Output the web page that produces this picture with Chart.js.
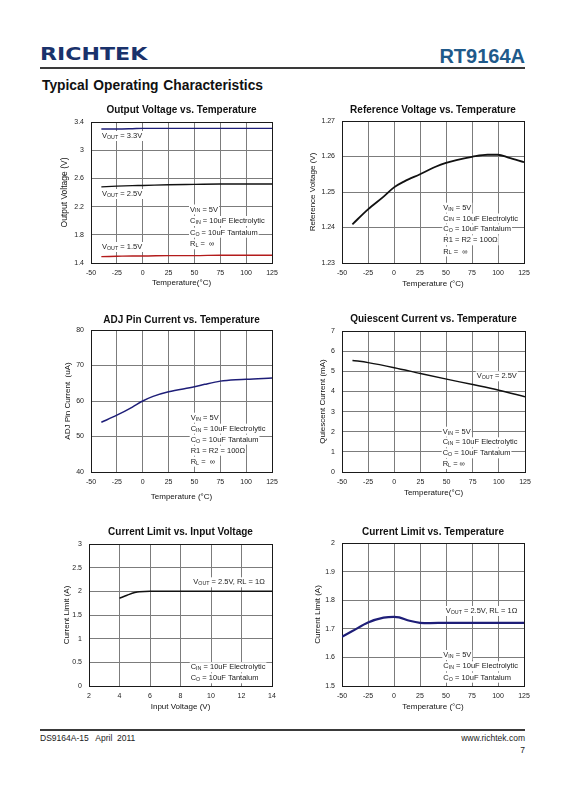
<!DOCTYPE html>
<html><head><meta charset="utf-8">
<script src="https://cdn.jsdelivr.net/npm/chart.js@4"></script>
<style>
body{margin:0;background:#fff;width:565px;height:800px;position:relative;overflow:hidden;font-family:"Liberation Sans",Arial,sans-serif;}
.abs{position:absolute;white-space:pre;}
canvas{position:absolute;}
</style></head><body>
<div class="abs" style="left:40px;top:46px;font:bold 17px/17px 'DejaVu Sans';color:#1a326b;transform:scaleX(1.3);transform-origin:0 0;">RICHTEK</div>
<div class="abs" style="right:40px;top:46px;font:bold 20px/20px 'Liberation Sans';color:#1f5a8a;">RT9164A</div>
<div class="abs" style="left:40px;top:67px;width:485px;height:2px;background:#3a3a3a;"></div>
<div class="abs" style="left:42px;top:79px;font:bold 13.8px/14px 'Liberation Sans';color:#111;word-spacing:1px;">Typical Operating Characteristics</div>
<div class="abs" style="left:40px;top:729px;width:485px;height:2px;background:#3a3a3a;"></div>
<div class="abs" style="left:40px;top:733px;font:8.5px/10px 'Liberation Sans';color:#222;">DS9164A-15   April  2011</div>
<div class="abs" style="right:40px;top:733px;font:8.5px/10px 'Liberation Sans';color:#222;">www.richtek.com</div>
<div class="abs" style="right:40px;top:745px;font:8.5px/10px 'Liberation Sans';color:#222;">7</div>
<script>
// ---------- DATA ----------
const tempTicks = [-50, -25, 0, 25, 50, 75, 100, 125];
const tempTickLabels = ['-50', '-25', '0', '25', '50', '75', '100', '125'];

// Output Voltage vs Temperature
const ovTemp = [-40, -25, -10, 0, 25, 50, 75, 100, 125];
const vout33 = [3.30, 3.30, 3.305, 3.31, 3.31, 3.31, 3.31, 3.31, 3.31];
const vout25 = [2.48, 2.49, 2.497, 2.50, 2.51, 2.515, 2.52, 2.52, 2.52];
const vout15 = [1.49, 1.495, 1.50, 1.50, 1.505, 1.505, 1.51, 1.51, 1.51];
const ovTicks = [1.4, 1.8, 2.2, 2.6, 3.0, 3.4];
const ovTickLabels = ['1.4', '1.8', '2.2', '2.6', '3', '3.4'];

// Reference Voltage vs Temperature
const refTemp = [-40, -25, -10, 0, 10, 25, 40, 50, 60, 75, 90, 100, 110, 125];
const vref = [1.2409, 1.2451, 1.2487, 1.2513, 1.2530, 1.2550, 1.2571, 1.2582, 1.2590, 1.2599, 1.2605, 1.2605, 1.2597, 1.2584];
const refTicks = [1.23, 1.24, 1.25, 1.26, 1.27];
const refTickLabels = ['1.23', '1.24', '1.25', '1.26', '1.27'];

// ADJ Pin Current vs Temperature
const adjTemp = [-40, -25, -10, 0, 10, 25, 50, 60, 75, 90, 100, 125];
const adjCurrent = [54.0, 56.0, 58.3, 60.0, 61.3, 62.6, 64.0, 64.7, 65.6, 66.0, 66.1, 66.5];
const adjTicks = [40, 50, 60, 70, 80];
const adjTickLabels = ['40', '50', '60', '70', '80'];

// Quiescent Current vs Temperature
const iqTemp = [-40, -25, 0, 25, 50, 75, 100, 125];
const iqCurrent = [5.54, 5.43, 5.18, 4.89, 4.61, 4.34, 4.06, 3.74];
const iqTicks = [0, 1, 2, 3, 4, 5, 6, 7];
const iqTickLabels = ['0', '1', '2', '3', '4', '5', '6', '7'];

// Current Limit vs Input Voltage
const vinVals = [4, 4.5, 5, 5.3, 6, 8, 10, 12, 14];
const ilimVin = [1.855, 1.918, 1.974, 1.993, 2.0, 2.0, 2.0, 2.0, 2.0];
const vinTicks = [2, 4, 6, 8, 10, 12, 14];
const vinTickLabels = ['2', '4', '6', '8', '10', '12', '14'];
const ilimTicks = [0, 0.5, 1, 1.5, 2, 2.5, 3];
const ilimTickLabels = ['0', '0.5', '1', '1.5', '2', '2.5', '3'];

// Current Limit vs Temperature
const ilTemp = [-50, -40, -25, -10, 0, 5, 15, 25, 35, 50, 75, 100, 125];
const ilimTemp = [1.672, 1.692, 1.722, 1.739, 1.742, 1.740, 1.728, 1.721, 1.720, 1.721, 1.721, 1.721, 1.721];
const ilTTicks = [1.5, 1.6, 1.7, 1.8, 1.9, 2.0];
const ilTTickLabels = ['1.5', '1.6', '1.7', '1.8', '1.9', '2'];

// ---------- RENDERING ----------
const FONT = '"Liberation Sans", Arial, sans-serif';
const MAIN = 7.5, SUB = 5.3;
const GRID = '#7c7c7c';

function parseRich(s) {
  return s.split(/(\{[^}]*\})/).filter(Boolean).map(p => p[0] === '{' ? {t: p.slice(1, -1), sub: true} : {t: p, sub: false});
}

const annotPlugin = {
  id: 'annot',
  afterDraw(chart, args, opts) {
    const ctx = chart.ctx;
    const items = opts.items || [];
    ctx.save();
    ctx.textBaseline = 'middle';
    items.forEach(it => {
      const parts = parseRich(it.text);
      const x0 = it.x - opts.ox, y0 = it.y - opts.oy;
      let w = 0;
      parts.forEach(p => { ctx.font = (p.sub ? SUB : MAIN) + 'px ' + FONT; w += ctx.measureText(p.t).width; });
      ctx.fillStyle = '#fff';
      ctx.fillRect(x0 - 1, y0 - 5, w + 2, 10);
      let x = x0;
      parts.forEach(p => {
        ctx.font = (p.sub ? SUB : MAIN) + 'px ' + FONT;
        ctx.fillStyle = '#222';
        ctx.fillText(p.t, x, y0 + (p.sub ? 1.4 : 0));
        x += ctx.measureText(p.t).width;
      });
    });
    ctx.restore();
  }
};

const framePlugin = {
  id: 'frame',
  beforeDatasetsDraw(chart) {
    const {ctx, chartArea: a} = chart;
    ctx.save();
    ctx.strokeStyle = '#1a1a1a';
    ctx.lineWidth = 1;
    ctx.strokeRect(Math.round(a.left) + 0.5, Math.round(a.top) + 0.5, Math.round(a.right - a.left), Math.round(a.bottom - a.top));
    ctx.restore();
  }
};

function makeChart(cfg) {
  const {L, T, R, B} = cfg.plot;
  const cl = L - 60, ct = T - 30;
  const w = R - L + 75, h = B - T + 62;
  const cv = document.createElement('canvas');
  cv.width = w; cv.height = h;
  cv.style.left = cl + 'px'; cv.style.top = ct + 'px';
  cv.style.width = w + 'px'; cv.style.height = h + 'px';
  document.body.appendChild(cv);
  const tPadTop = cfg.titleY - ct - 6;
  const tPadBottom = T - ct - 12 - tPadTop;
  new Chart(cv, {
    type: 'line',
    data: {
      datasets: cfg.series.map(s => ({
        data: s.x.map((xv, i) => ({x: xv, y: s.y[i]})),
        borderColor: s.color, borderWidth: s.width, pointRadius: 0, fill: false,
        cubicInterpolationMode: 'monotone'
      }))
    },
    options: {
      responsive: false, animation: false, devicePixelRatio: 1,
      layout: {padding: {left: 0, right: 15, top: 0, bottom: 0}},
      plugins: {
        legend: {display: false}, tooltip: {enabled: false},
        title: {display: true, text: cfg.title, fullSize: false, color: '#111',
          font: {family: FONT, size: 10, weight: 'bold', lineHeight: 1.2},
          padding: {top: tPadTop, bottom: tPadBottom}},
        annot: {items: cfg.annots, ox: cl, oy: ct}
      },
      scales: {
        x: {
          type: 'linear', min: cfg.xTicks[0], max: cfg.xTicks[cfg.xTicks.length - 1],
          afterFit: s => { s.height = 32; },
          afterBuildTicks: s => { s.ticks = cfg.xTicks.map(v => ({value: v})); },
          ticks: {autoSkip: false, maxRotation: 0, padding: 6, color: '#222',
            font: {family: FONT, size: 7}, callback: (v, i) => cfg.xLabels[i]},
          grid: {color: GRID, lineWidth: 1, drawTicks: false},
          border: {display: false},
          title: {display: true, text: cfg.xTitle, color: '#111',
            font: {family: FONT, size: 8, lineHeight: 1.2},
            padding: {top: 0, bottom: B + 32 - cfg.xTitleY - 4.8}}
        },
        y: {
          type: 'linear', min: cfg.yTicks[0], max: cfg.yTicks[cfg.yTicks.length - 1],
          afterFit: s => { s.width = 60; },
          afterBuildTicks: s => { s.ticks = cfg.yTicks.map(v => ({value: v})); },
          ticks: {autoSkip: false, padding: 7, color: '#222',
            font: {family: FONT, size: 7}, callback: (v, i) => cfg.yLabels[i]},
          grid: {color: GRID, lineWidth: 1, drawTicks: false},
          border: {display: false},
          title: {display: true, text: cfg.yTitle, color: '#111',
            font: {family: FONT, size: cfg.yTitleSize || 8, lineHeight: 1.2},
            padding: {top: cfg.yTitleX - cl - (cfg.yTitleSize || 8) * 0.6, bottom: 0}}
        }
      }
    },
    plugins: [framePlugin, annotPlugin]
  });
}

const NAVY = '#1e1e78', BLACK = '#111', RED = '#b31b1b';

makeChart({
  plot: {L: 91, T: 122, R: 272, B: 263}, titleY: 110, yTitleX: 65, xTitleY: 283, yTitleSize: 8.5,
  title: 'Output Voltage vs. Temperature', xTitle: 'Temperature(°C)', yTitle: 'Output Voltage (V)',
  xTicks: tempTicks, xLabels: tempTickLabels, yTicks: ovTicks, yLabels: ovTickLabels,
  series: [
    {x: ovTemp, y: vout33, color: NAVY, width: 1.4},
    {x: ovTemp, y: vout25, color: BLACK, width: 1.4},
    {x: ovTemp, y: vout15, color: RED, width: 1.4}
  ],
  annots: [
    {x: 102, y: 136, text: 'V{OUT} = 3.3V'},
    {x: 102, y: 194, text: 'V{OUT} = 2.5V'},
    {x: 102, y: 247, text: 'V{OUT} = 1.5V'},
    {x: 190, y: 209.5, text: 'V{IN} = 5V'},
    {x: 190, y: 221, text: 'C{IN} = 10uF Electrolytic'},
    {x: 190, y: 232.7, text: 'C{O} = 10uF Tantalum'},
    {x: 190, y: 244.3, text: 'R{L} =  ∞'}
  ]
});

makeChart({
  plot: {L: 342, T: 121, R: 524, B: 263}, titleY: 110, yTitleX: 313, xTitleY: 284,
  title: 'Reference Voltage vs. Temperature', xTitle: 'Temperature (°C)', yTitle: 'Reference Voltage (V)',
  xTicks: tempTicks, xLabels: tempTickLabels, yTicks: refTicks, yLabels: refTickLabels,
  series: [{x: refTemp, y: vref, color: BLACK, width: 1.8}],
  annots: [
    {x: 443.3, y: 207.7, text: 'V{IN} = 5V'},
    {x: 443.3, y: 218.5, text: 'C{IN} = 10uF Electrolytic'},
    {x: 443.3, y: 229.3, text: 'C{O} = 10uF Tantalum'},
    {x: 443.3, y: 240.3, text: 'R1 = R2 = 100Ω'},
    {x: 443.3, y: 251.5, text: 'R{L} =  ∞'}
  ]
});

makeChart({
  plot: {L: 91, T: 330, R: 272, B: 472}, titleY: 320, yTitleX: 68, xTitleY: 497,
  title: 'ADJ Pin Current vs. Temperature', xTitle: 'Temperature (°C)', yTitle: 'ADJ Pin Current  (uA)',
  xTicks: tempTicks, xLabels: tempTickLabels, yTicks: adjTicks, yLabels: adjTickLabels,
  series: [{x: adjTemp, y: adjCurrent, color: NAVY, width: 1.5}],
  annots: [
    {x: 190.7, y: 417.7, text: 'V{IN} = 5V'},
    {x: 190.7, y: 428.7, text: 'C{IN} = 10uF Electrolytic'},
    {x: 190.7, y: 439.7, text: 'C{O} = 10uF Tantalum'},
    {x: 190.7, y: 450.7, text: 'R1 = R2 = 100Ω'},
    {x: 190.7, y: 461.7, text: 'R{L} =  ∞'}
  ]
});

makeChart({
  plot: {L: 342, T: 331, R: 525, B: 472}, titleY: 319, yTitleX: 323, xTitleY: 493,
  title: 'Quiescent Current vs. Temperature', xTitle: 'Temperature(°C)', yTitle: 'Quiescent Current (mA)',
  xTicks: tempTicks, xLabels: tempTickLabels, yTicks: iqTicks, yLabels: iqTickLabels,
  series: [{x: iqTemp, y: iqCurrent, color: BLACK, width: 1.5}],
  annots: [
    {x: 476.7, y: 376.3, text: 'V{OUT} = 2.5V'},
    {x: 442.7, y: 431.7, text: 'V{IN} = 5V'},
    {x: 442.7, y: 442.3, text: 'C{IN} = 10uF Electrolytic'},
    {x: 442.7, y: 453.3, text: 'C{O} = 10uF Tantalum'},
    {x: 442.7, y: 464, text: 'R{L} = ∞'}
  ]
});

makeChart({
  plot: {L: 89, T: 544, R: 272, B: 686}, titleY: 532, yTitleX: 67, xTitleY: 707,
  title: 'Current Limit vs. Input Voltage', xTitle: 'Input Voltage (V)', yTitle: 'Current Limit (A)',
  xTicks: vinTicks, xLabels: vinTickLabels, yTicks: ilimTicks, yLabels: ilimTickLabels,
  series: [{x: vinVals, y: ilimVin, color: BLACK, width: 1.5}],
  annots: [
    {x: 193.3, y: 582.3, text: 'V{OUT} = 2.5V, RL = 1Ω'},
    {x: 190.7, y: 667.3, text: 'C{IN} = 10uF Electrolytic'},
    {x: 190.7, y: 678.3, text: 'C{O} = 10uF Tantalum'}
  ]
});

makeChart({
  plot: {L: 342, T: 543, R: 524, B: 686}, titleY: 532, yTitleX: 318, xTitleY: 707,
  title: 'Current Limit vs. Temperature', xTitle: 'Temperature (°C)', yTitle: 'Current Limit (A)',
  xTicks: tempTicks, xLabels: tempTickLabels, yTicks: ilTTicks, yLabels: ilTTickLabels,
  series: [{x: ilTemp, y: ilimTemp, color: NAVY, width: 2.2}],
  annots: [
    {x: 445.7, y: 611, text: 'V{OUT} = 2.5V, RL = 1Ω'},
    {x: 443.3, y: 655, text: 'V{IN} = 5V'},
    {x: 443.3, y: 666.3, text: 'C{IN} = 10uF Electrolytic'},
    {x: 443.3, y: 677.7, text: 'C{O} = 10uF Tantalum'}
  ]
});
</script>
</body></html>
